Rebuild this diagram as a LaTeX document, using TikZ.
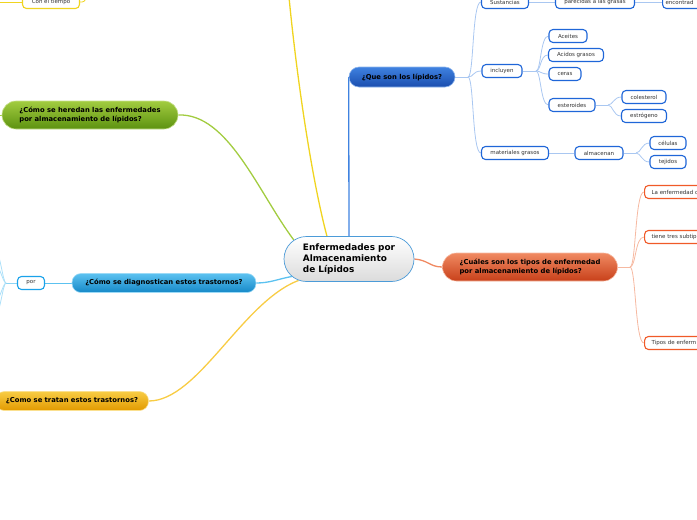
\documentclass[tikz,border=0pt]{standalone}
\usepackage{fontspec}
\setmainfont{DejaVu Sans}
\usetikzlibrary{positioning,calc,shapes.misc,backgrounds}

\definecolor{lipT}{HTML}{3F82E0}
\definecolor{lipB}{HTML}{1A4DAE}
\definecolor{redT}{HTML}{F08A62}
\definecolor{redB}{HTML}{C8401A}
\definecolor{grnT}{HTML}{A2CC40}
\definecolor{grnB}{HTML}{5C9210}
\definecolor{skyT}{HTML}{5CC2F0}
\definecolor{skyB}{HTML}{1588C8}
\definecolor{gldT}{HTML}{F8CC44}
\definecolor{gldB}{HTML}{E29A00}
\definecolor{subblue}{HTML}{1F66D8}
\definecolor{subred}{HTML}{F05A28}
\definecolor{subyel}{HTML}{F0D420}
\definecolor{subsky}{HTML}{1AA2EA}
\definecolor{rootline}{HTML}{4C9BD8}

\begin{document}
\begin{tikzpicture}[
    x=1pt, y=-1pt,
    font=\fontsize{5.5}{6.6}\selectfont,
    rootbox/.style={rounded rectangle, draw=rootline, line width=0.7pt,
        top color=white, bottom color=black!14, inner sep=0pt,
        minimum width=130pt, minimum height=45pt, align=left,
        font=\fontsize{8.9}{10.8}\selectfont\bfseries},
    branch/.style={rounded corners=#1, inner sep=0pt, align=left,
        line width=0.6pt, font=\fontsize{6.8}{8.4}\selectfont\bfseries},
    lipfill/.style={top color=lipT, bottom color=lipB, draw=lipT!60!white},
    redfill/.style={top color=redT, bottom color=redB, draw=redT!60!white},
    grnfill/.style={top color=grnT, bottom color=grnB, draw=grnT!60!white},
    skyfill/.style={top color=skyT, bottom color=skyB, draw=skyT!60!white},
    gldfill/.style={top color=gldT, bottom color=gldB, draw=gldT!60!white},
    subbox/.style={rounded corners=4pt, draw=#1, line width=1.1pt, fill=white,
        inner sep=0pt, minimum height=13pt, text=black!80},
    cutbox/.style={subbox=#1, anchor=west, text width=62pt, align=left,
        inner xsep=7pt},
    mainlink/.style={line width=1.3pt, draw=#1},
    sublink/.style={line width=0.8pt, draw=#1},
]
\useasboundingbox (0,0) rectangle (697,520);
\clip (0,0) rectangle (697,520);

% Central topic
\node[rootbox] (root) at (349,259) {Enfermedades por\\Almacenamiento\\de Lípidos};

% Main branches
\node[branch=10pt, lipfill, minimum width=106pt, minimum height=20pt] (lip) at (402,77) {¿Que son los lípidos?};
\node[branch=14pt, redfill, minimum width=175pt, minimum height=28pt] (tipos) at (530,267) {¿Cuáles son los tipos de enfermedad\\por almacenamiento de lípidos?};
\node[branch=14pt, grnfill, minimum width=176pt, minimum height=28pt] (hered) at (90,115) {¿Cómo se heredan las enfermedades\\por almacenamiento de lípidos?};
\node[branch=9pt, skyfill, minimum width=184pt, minimum height=19pt] (diag) at (164,283) {¿Cómo se diagnostican estos trastornos?};
\node[branch=9pt, gldfill, minimum width=153pt, minimum height=19pt] (trat) at (72,401) {¿Como se tratan estos trastornos?};

% Blue sub-topics
\node[subbox=subblue, minimum width=47pt] (sust) at (505,2) {Sustancias};
\node[subbox=subblue, minimum width=79pt] (parec) at (595,2) {parecidas a las grasas};
\node[subbox=subblue, anchor=west, text width=60pt, align=left, inner xsep=3pt] (enc) at (662,2) {encontrad};
\node[subbox=subblue, minimum width=40pt] (incl) at (502,71) {incluyen};
\node[subbox=subblue, minimum width=38pt] (aceit) at (568,36) {Aceites};
\node[subbox=subblue, minimum width=55pt] (acid) at (576,55) {Acidos grasos};
\node[subbox=subblue, minimum width=32pt] (ceras) at (565,74) {ceras};
\node[subbox=subblue, minimum width=46pt] (ester) at (572,105) {esteroides};
\node[subbox=subblue, minimum width=44pt] (coles) at (644,97) {colesterol};
\node[subbox=subblue, minimum width=45pt] (estro) at (644,116) {estrógeno};
\node[subbox=subblue, minimum width=67pt] (mater) at (515,153) {materiales grasos};
\node[subbox=subblue, minimum width=48pt] (almac) at (599,153) {almacenan};
\node[subbox=subblue, minimum width=36pt] (celul) at (668,143) {células};
\node[subbox=subblue, minimum width=36pt] (tejid) at (668,162) {tejidos};

% Red sub-topics
\node[cutbox=subred] (enfd) at (644,192) {La enfermedad d};
\node[cutbox=subred] (subt) at (644,237) {tiene tres subtip};
\node[cutbox=subred] (tenf) at (644,343) {Tipos de enferm};

% Other sub-topics
\node[subbox=subyel, minimum width=57pt] (tiempo) at (51,2) {Con el tiempo};
\node[subbox=subsky, minimum width=27pt] (por) at (31,283) {por};

% Forks and off-picture ends
\coordinate (fq) at (468,77);
\coordinate (fi) at (536,71);
\coordinate (fe) at (608,105);
\coordinate (fa) at (636,153);
\coordinate (fr) at (630,267);
\coordinate (fp) at (6,283);
\coordinate (ytop) at (289,-3);
\coordinate (yright) at (88,-4);
\coordinate (yleft) at (-3,2);
\coordinate (gleft) at (-4,115);

\begin{scope}[on background layer]
% Links from the central topic
\draw[mainlink=lipT] (root.north) -- (lip.west);
\draw[mainlink=redT] (root.east) .. controls (428,260) and (430,267) .. (tipos.west);
\draw[mainlink=grnT] (hered.east) .. controls (228,113) and (258,192) .. (root.161);
\draw[mainlink=subyel] (ytop) .. controls (297,80) and (312,180) .. (root.134);
\draw[mainlink=skyT] (diag.east) .. controls (270,283) and (278,279) .. (root.197);
\draw[mainlink=gldT] (trat.east) .. controls (198,401) and (242,302) .. (root.203);

% Blue links
\draw[sublink=lipT!45!white] (lip.east) -- (fq);
\foreach \n in {sust,incl,mater}
  \draw[sublink=lipT!45!white] (fq) .. controls +(6,0) and +(-9,0) .. (\n.west);
\draw[sublink=lipT!45!white] (sust.east) -- (parec.west);
\draw[sublink=lipT!45!white] (parec.east) -- (enc.west);
\draw[sublink=lipT!45!white] (incl.east) -- (fi);
\foreach \n in {aceit,acid,ceras,ester}
  \draw[sublink=lipT!45!white] (fi) .. controls +(5,0) and +(-8,0) .. (\n.west);
\draw[sublink=lipT!45!white] (ester.east) -- (fe);
\foreach \n in {coles,estro}
  \draw[sublink=lipT!45!white] (fe) .. controls +(5,0) and +(-8,0) .. (\n.west);
\draw[sublink=lipT!45!white] (mater.east) -- (almac.west);
\draw[sublink=lipT!45!white] (almac.east) -- (fa);
\foreach \n in {celul,tejid}
  \draw[sublink=lipT!45!white] (fa) .. controls +(5,0) and +(-8,0) .. (\n.west);

% Red links
\draw[sublink=redT!60!white] (tipos.east) -- (fr);
\foreach \n in {enfd,subt,tenf}
  \draw[sublink=redT!60!white] (fr) .. controls +(6,0) and +(-9,0) .. (\n.west);

% Left-hand links
\draw[sublink=subyel] (yleft) -- (tiempo.west);
\draw[sublink=subyel] (tiempo.east) .. controls (84,2) .. (yright);
\draw[sublink=grnT] (gleft) -- (hered.west);
\draw[sublink=skyT] (diag.west) -- (por.east);
\draw[sublink=skyT!70!white] (por.west) -- (fp);
\foreach \y in {252,266,300,314}
  \draw[sublink=skyT!50!white] (fp) .. controls +(-3,0) and +(4,0) .. (-4,\y);
\end{scope}
\end{tikzpicture}
\end{document}
